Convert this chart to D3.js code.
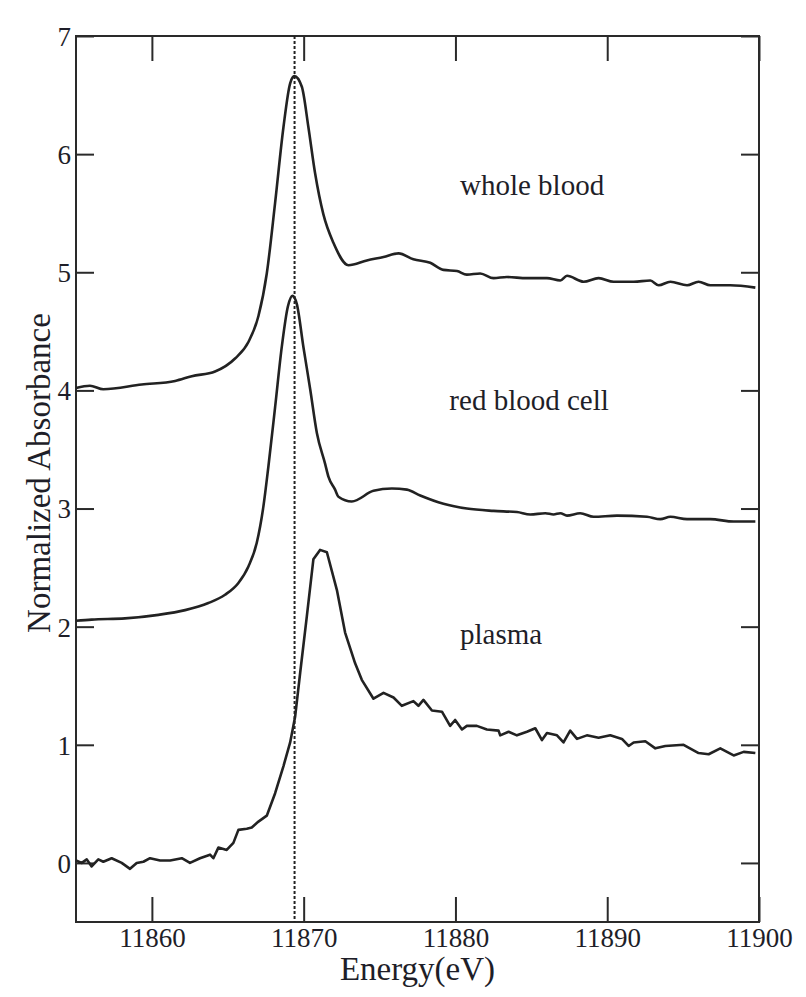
<!DOCTYPE html>
<html>
<head>
<meta charset="utf-8">
<script src="https://cdn.jsdelivr.net/npm/d3@7"></script>
<style>
html,body{margin:0;padding:0;background:#fff;}
svg text{font-family:"Liberation Serif","Times New Roman",serif;fill:#1e1e28;}
</style>
</head>
<body>
<svg id="chart" width="806" height="997"></svg>
<script>
// ---- data ----
const xTicks = [11860, 11870, 11880, 11890, 11900];
const yTicks = [0, 1, 2, 3, 4, 5, 6, 7];
const edgeEnergy = 11869.4;

const wholeBloodE = [11855,11855.92,11856.8,11859.33,11861.53,11862.63,11864.16,11865.48,11866.36,11867.02,11867.57,11868.12,11868.67,11869.11,11869.39,11869.88,11870.31,11870.75,11871.3,11871.96,11872.95,11874.16,11875.26,11876.25,11877.23,11878.34,11879.21,11880.1,11880.75,11881.63,11882.51,11883.39,11884.71,11886.03,11886.91,11887.35,11888.44,11889.43,11890.42,11891.74,11892.84,11893.39,11894.16,11895.26,11896.02,11896.79,11898.11,11899.76];
const wholeBloodA = [4.02,4.04,4.01,4.05,4.08,4.12,4.16,4.27,4.41,4.63,4.99,5.59,6.23,6.6,6.66,6.57,6.23,5.84,5.49,5.25,5.06,5.1,5.13,5.16,5.11,5.08,5.02,5.01,4.98,4.99,4.95,4.96,4.95,4.95,4.93,4.97,4.92,4.95,4.92,4.92,4.93,4.89,4.92,4.89,4.92,4.89,4.89,4.87];

const redCellE = [11855,11856.03,11858.23,11860.43,11862.19,11863.72,11864.82,11865.7,11866.36,11866.91,11867.35,11867.68,11868.12,11868.56,11868.96,11869.26,11869.55,11869.98,11870.43,11870.87,11871.41,11871.63,11872.07,11872.29,11873.17,11874.6,11875.81,11876.8,11877.68,11879.21,11880.75,11882.51,11884.05,11884.93,11885.92,11886.46,11886.91,11887.35,11888.22,11889.1,11890.64,11892.62,11893.5,11894.16,11895.26,11896.79,11898.33,11899.76];
const redCellA = [2.05,2.06,2.07,2.1,2.14,2.2,2.27,2.37,2.51,2.71,3.02,3.36,3.86,4.37,4.71,4.8,4.73,4.37,4.01,3.64,3.38,3.27,3.16,3.1,3.06,3.15,3.17,3.16,3.11,3.04,3.0,2.98,2.97,2.95,2.96,2.95,2.96,2.94,2.96,2.93,2.94,2.93,2.91,2.93,2.91,2.91,2.89,2.89];

const plasmaE = [11855,11855.38,11855.71,11856.03,11856.47,11856.8,11857.35,11858.01,11858.56,11859.0,11859.44,11859.88,11860.54,11861.2,11861.97,11862.51,11863.17,11863.83,11864.05,11864.38,11864.93,11865.37,11865.7,11866.25,11866.58,11867.02,11867.57,11868.12,11868.67,11869.11,11869.44,11869.77,11870.21,11870.64,11871.08,11871.53,11872.19,11872.73,11873.39,11873.83,11874.6,11875.26,11875.92,11876.47,11877.23,11877.56,11877.89,11878.45,11879.11,11879.65,11879.98,11880.43,11880.75,11881.41,11882.07,11882.84,11882.95,11883.5,11884.05,11884.71,11885.26,11885.7,11886.03,11886.69,11887.12,11887.56,11888.01,11888.66,11889.43,11890.2,11890.97,11891.41,11891.74,11892.51,11893.17,11893.83,11895.03,11896.02,11896.68,11897.45,11898.33,11898.99,11899.76];
const plasmaA = [0.02,0.0,0.03,-0.03,0.03,0.01,0.04,0.0,-0.05,0.0,0.01,0.04,0.02,0.02,0.04,0.0,0.04,0.07,0.04,0.13,0.11,0.17,0.28,0.29,0.3,0.35,0.4,0.59,0.82,1.02,1.24,1.61,2.09,2.57,2.65,2.63,2.31,1.95,1.69,1.55,1.39,1.44,1.4,1.33,1.37,1.33,1.38,1.29,1.28,1.16,1.21,1.13,1.16,1.16,1.13,1.12,1.08,1.11,1.08,1.11,1.14,1.04,1.1,1.08,1.02,1.12,1.05,1.08,1.06,1.08,1.05,0.99,1.02,1.03,0.97,0.99,1.0,0.93,0.92,0.97,0.91,0.94,0.93];

const seriesNames = ["whole blood", "red blood cell", "plasma"];
const labelE = [11880.3, 11879.6, 11880.3];
const labelA = [5.65, 3.83, 1.85];

// ---- layout ----
const svg = d3.select("#chart");
const L = 76, R = 759, T = 36, B = 922;
const x = d3.scaleLinear().domain([11855, 11900]).range([L, R]);
const y = d3.scaleLinear().domain([-0.5, 7]).range([B, T]);
const ink = "#1e1e28";

// frame
svg.append("rect").attr("x", L).attr("y", T).attr("width", R - L).attr("height", B - T)
  .attr("fill", "none").attr("stroke", "#2a2a2a").attr("stroke-width", 2);

// ticks inward, all sides
const gx = svg.append("g").attr("transform", `translate(0,${B})`)
  .call(d3.axisBottom(x).tickValues(xTicks).tickSizeInner(-25).tickSizeOuter(0).tickPadding(6).tickFormat(d3.format("d")));
const gxt = svg.append("g").attr("transform", `translate(0,${T})`)
  .call(d3.axisTop(x).tickValues(xTicks).tickSizeInner(-25).tickSizeOuter(0).tickFormat(""));
const gy = svg.append("g").attr("transform", `translate(${L},0)`)
  .call(d3.axisLeft(y).tickValues(yTicks).tickSizeInner(-18).tickSizeOuter(0).tickPadding(5));
const gyr = svg.append("g").attr("transform", `translate(${R},0)`)
  .call(d3.axisRight(y).tickValues(yTicks).tickSizeInner(-18).tickSizeOuter(0).tickFormat(""));
[gx, gxt, gy, gyr].forEach(g => {
  g.attr("font-family", null).attr("font-size", null);
  g.select(".domain").remove();
  g.selectAll(".tick line").attr("stroke", "#2a2a2a").attr("stroke-width", 2);
  g.selectAll("text").style("font-family", "'Liberation Serif', serif").style("font-size", "27px").attr("fill", ink);
});
gy.selectAll("text").attr("dy", "0.35em");

// dashed edge line
svg.append("line").attr("x1", x(edgeEnergy)).attr("x2", x(edgeEnergy))
  .attr("y1", T).attr("y2", B).attr("stroke", "#222").attr("stroke-width", 2)
  .attr("stroke-dasharray", "3,2");

// curves
const smooth = d3.line().x(d => x(d[0])).y(d => y(d[1])).curve(d3.curveMonotoneX);
const straight = d3.line().x(d => x(d[0])).y(d => y(d[1]));
const series = [
  {pts: d3.zip(wholeBloodE, wholeBloodA), gen: smooth},
  {pts: d3.zip(redCellE, redCellA), gen: smooth},
  {pts: d3.zip(plasmaE, plasmaA), gen: straight}
];
series.forEach(s => {
  svg.append("path").datum(s.pts).attr("d", s.gen)
    .attr("fill", "none").attr("stroke", "#222").attr("stroke-width", 2.6)
    .attr("stroke-linejoin", "round");
});

// series labels
seriesNames.forEach((n, i) => {
  svg.append("text").attr("x", x(labelE[i])).attr("y", y(labelA[i]))
    .style("font-size", "29px").text(n);
});

// axis titles
svg.append("text").attr("x", (L + R) / 2).attr("y", 980).attr("text-anchor", "middle")
  .style("font-size", "33px").text("Energy(eV)");
svg.append("text").attr("transform", `translate(50,${(T + B) / 2 - 6}) rotate(-90)`)
  .attr("text-anchor", "middle").style("font-size", "33px").text("Normalized Absorbance");
</script>
</body>
</html>
